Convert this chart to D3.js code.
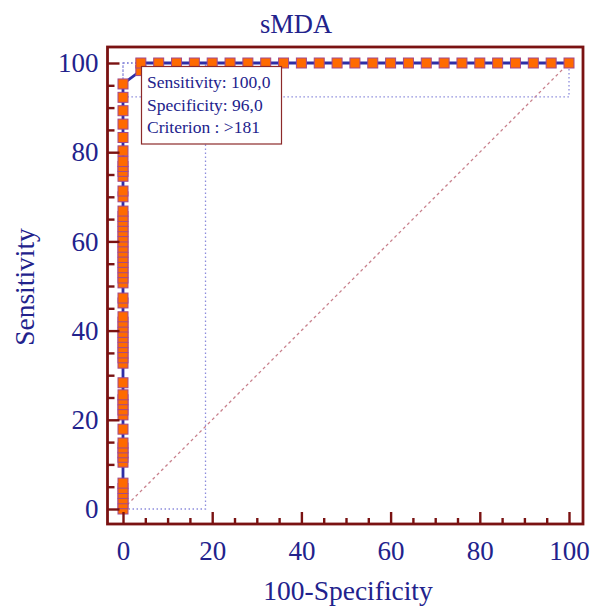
<!DOCTYPE html>
<html>
<head>
<meta charset="utf-8">
<script src="https://cdn.jsdelivr.net/npm/d3@7"></script>
<style>
  html, body { margin: 0; padding: 0; background: #fff; }
  svg text { font-family: "Liberation Serif", "DejaVu Serif", serif; }
</style>
</head>
<body>
<div id="chart"></div>
<script>
// sensitivity values of the ROC points sitting on 100-Specificity = 0
var sensAtZero = [0, 1.2, 2.3, 3.5, 4.6, 5.8, 10.5, 11.6, 12.6, 13.7, 14.8, 17.9,
  21.1, 22.2, 23.4, 24.5, 25.6, 28.3, 32.7, 33.9, 35.0, 36.2, 37.3, 38.5, 39.6,
  40.8, 41.9, 43.1, 46.2, 47.3, 50.7, 51.8, 53.0, 54.1, 55.3, 56.4, 57.6, 58.7,
  59.9, 61.0, 62.2, 63.3, 64.5, 65.6, 66.8, 70.0, 71.3, 74.6, 75.7, 76.8, 77.9,
  80.3, 83.3, 86.3, 89.3, 92.3, 95.3];
// remaining points of the curve
var fprRest  = [4, 4, 8, 12, 16, 20, 24, 28, 32, 36, 40, 44, 48, 52, 56, 60, 64, 68, 72, 76, 80, 84, 88, 92, 96, 100];
var sensRest = [98.3, 100, 100, 100, 100, 100, 100, 100, 100, 100, 100, 100, 100, 100, 100, 100, 100, 100, 100, 100, 100, 100, 100, 100, 100, 100];
// criterion point and its confidence box
var ciSpec = [0, 18.5];   // 100-specificity
var ciSens = [92.4, 100];
var legendLines = ["Sensitivity: 100,0", "Specificity: 96,0", "Criterion : >181"];
var majorTicks = [0, 20, 40, 60, 80, 100];
var minorTicks = [5, 10, 15, 25, 30, 35, 45, 50, 55, 65, 70, 75, 85, 90, 95];

var W = 591, H = 608;
var navy = "#22228c", maroon = "#7a1212";

var points = sensAtZero.map(function(s) { return [0, s]; })
  .concat(fprRest.map(function(f, i) { return [f, sensRest[i]]; }));

var svg = d3.select("#chart").append("svg")
  .attr("width", W).attr("height", H);

var x = d3.scaleLinear().domain([0, 100]).range([123, 569]);
var y = d3.scaleLinear().domain([0, 100]).range([509, 63]);

var frame = {left: 107.5, top: 47, right: 583, bottom: 524};

// title
svg.append("text")
  .attr("x", 296).attr("y", 33)
  .attr("text-anchor", "middle")
  .style("font-size", "26.5px").style("fill", navy)
  .text("sMDA");

// chance diagonal
svg.append("line")
  .attr("x1", x(0)).attr("y1", y(0)).attr("x2", x(100)).attr("y2", y(100))
  .attr("stroke", "#c8808c").attr("stroke-width", 1.3)
  .attr("stroke-dasharray", "3,3");

// confidence boxes (dotted)
var dotted = function(sel) {
  return sel.attr("fill", "none").attr("stroke", "#8c8cdc")
    .attr("stroke-width", 1.3).attr("stroke-dasharray", "1.5,2.5");
};
dotted(svg.append("rect")
  .attr("x", x(ciSpec[0])).attr("y", y(100))
  .attr("width", x(ciSpec[1]) - x(ciSpec[0])).attr("height", y(0) - y(100)));
dotted(svg.append("rect")
  .attr("x", x(0)).attr("y", y(ciSens[1]))
  .attr("width", x(100) - x(0)).attr("height", y(ciSens[0]) - y(ciSens[1])));

// curve
svg.append("path")
  .datum(points)
  .attr("fill", "none").attr("stroke", "#2e2ea6").attr("stroke-width", 2.8)
  .attr("d", d3.line().x(function(d) { return x(d[0]); }).y(function(d) { return y(d[1]); }));

svg.append("g").selectAll("rect")
  .data(points)
  .enter().append("rect")
    .attr("x", function(d) { return x(d[0]) - 5; })
    .attr("y", function(d) { return y(d[1]) - 5; })
    .attr("width", 10).attr("height", 10)
    .attr("fill", "#ff6a00").attr("stroke", "#a2488c").attr("stroke-width", 1);

// frame
svg.append("rect")
  .attr("x", frame.left).attr("y", frame.top)
  .attr("width", frame.right - frame.left).attr("height", frame.bottom - frame.top)
  .attr("fill", "none").attr("stroke", maroon).attr("stroke-width", 2.8);

// axes: ticks point inward from the frame
function styleAxis(g) {
  g.select(".domain").remove();
  g.selectAll("line").attr("stroke", maroon).attr("stroke-width", 2.4);
  g.selectAll("text")
    .style("font-family", '"Liberation Serif", serif')
    .style("font-size", "27px").style("fill", navy);
}

svg.append("g").attr("transform", "translate(" + frame.left + ",0)")
  .call(d3.axisLeft(y).tickValues(minorTicks).tickSize(-7).tickFormat(""))
  .call(styleAxis);
svg.append("g").attr("transform", "translate(" + frame.left + ",0)")
  .call(d3.axisLeft(y).tickValues(majorTicks).tickSize(-12).tickPadding(9).tickFormat(d3.format("d")))
  .call(styleAxis);

svg.append("g").attr("transform", "translate(0," + frame.bottom + ")")
  .call(d3.axisBottom(x).tickValues(minorTicks).tickSize(-6).tickFormat(""))
  .call(styleAxis);
svg.append("g").attr("transform", "translate(0," + frame.bottom + ")")
  .call(d3.axisBottom(x).tickValues(majorTicks).tickSize(-12).tickPadding(17).tickFormat(d3.format("d")))
  .call(styleAxis);

// axis titles
svg.append("text")
  .attr("x", 348).attr("y", 600)
  .attr("text-anchor", "middle")
  .style("font-size", "27.5px").style("fill", navy)
  .text("100-Specificity");

svg.append("text")
  .attr("transform", "translate(34,287) rotate(-90)")
  .attr("text-anchor", "middle")
  .style("font-size", "27.5px").style("fill", navy)
  .text("Sensitivity");

// criterion box
var box = svg.append("g").attr("transform", "translate(141.5,66.5)");
box.append("rect")
  .attr("width", 140).attr("height", 77.5)
  .attr("fill", "#fff").attr("stroke", "#8c2a2a").attr("stroke-width", 1.2);
box.selectAll("text")
  .data(legendLines)
  .enter().append("text")
    .attr("x", 5.5)
    .attr("y", function(d, i) { return 21.8 + i * 22.2; })
    .style("font-size", "17.5px").style("fill", navy)
    .text(function(d) { return d; });
</script>
</body>
</html>
